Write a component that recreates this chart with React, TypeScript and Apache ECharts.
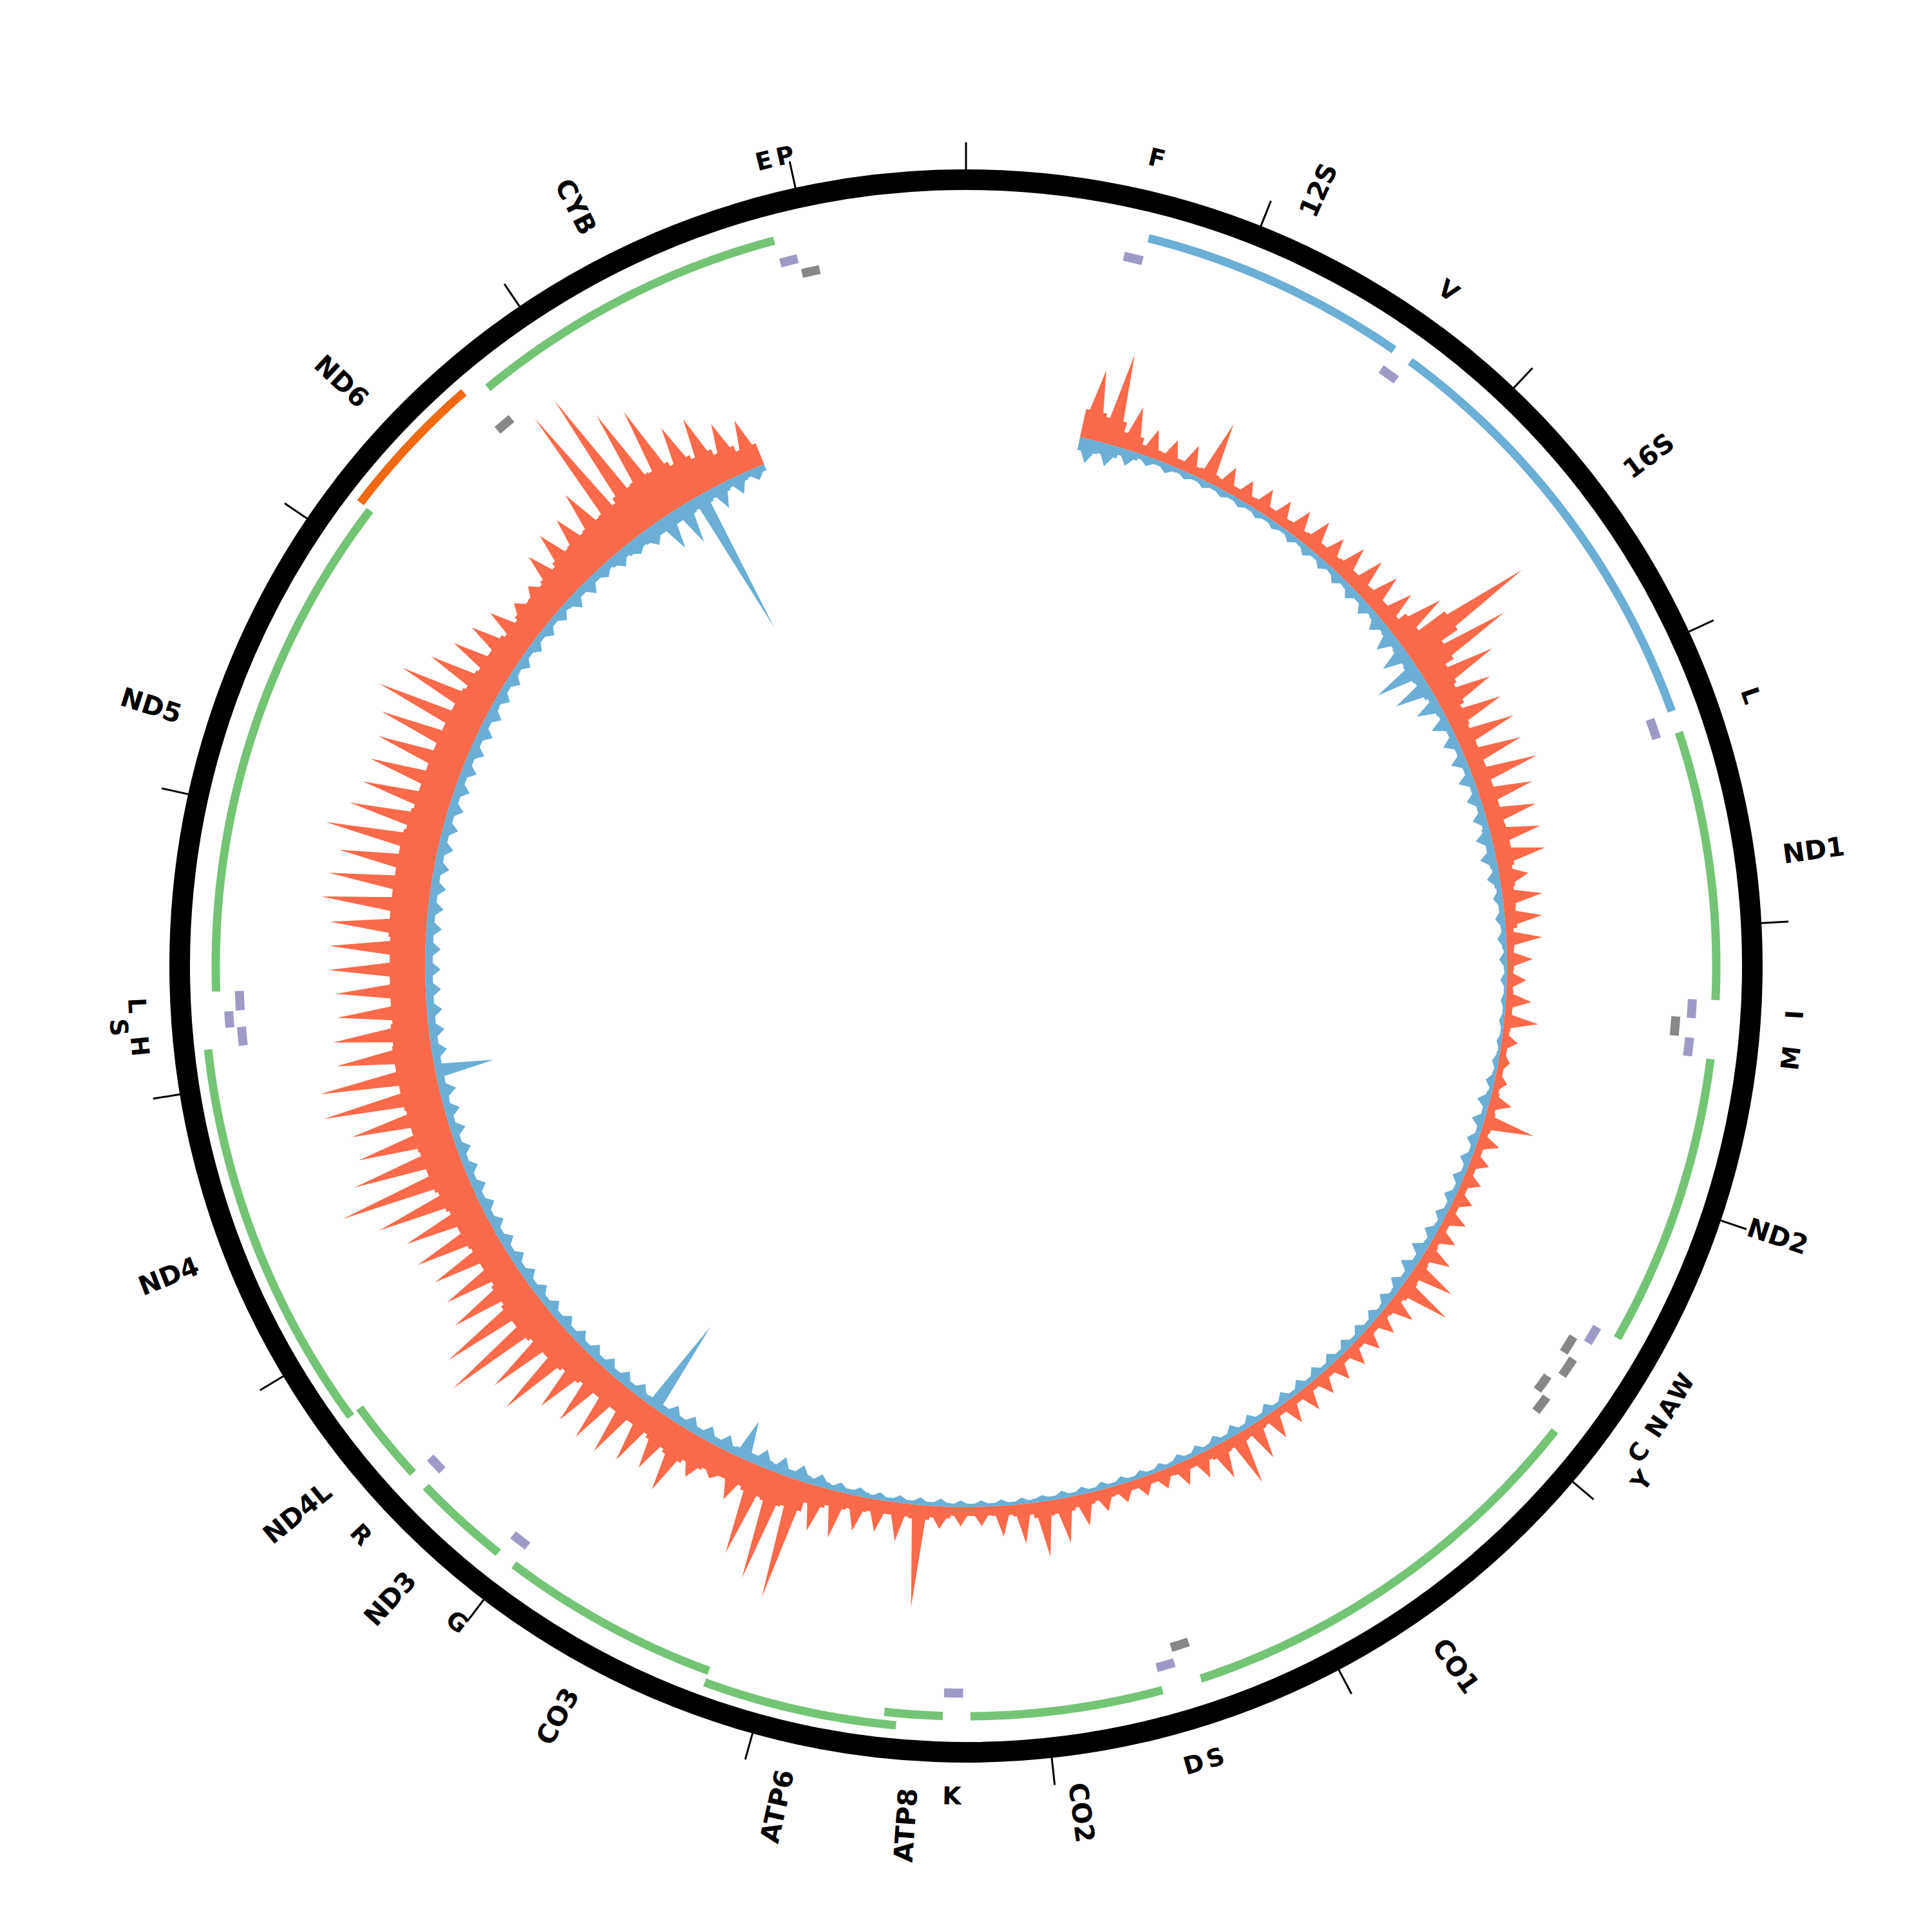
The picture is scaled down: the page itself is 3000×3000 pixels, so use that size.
import React, { useEffect, useRef } from "react";
import * as echarts from "echarts";

// ---------------- data ----------------
const GENOME_LENGTH = 16569;
const TICK_INTERVAL = 1000;

const geneNames = ["12S", "16S", "ND1", "ND2", "CO1", "CO2", "ATP8", "ATP6", "CO3", "ND3", "ND4L", "ND4", "ND5", "ND6", "CYB"];
const geneStarts = [648, 1671, 3307, 4470, 5904, 7586, 8366, 8527, 9207, 10059, 10470, 10760, 12337, 14149, 14747];
const geneEnds = [1601, 3229, 4262, 5511, 7445, 8269, 8572, 9207, 9990, 10404, 10766, 12137, 14148, 14673, 15887];
const geneStrands = [1, 1, 1, 1, 1, 1, 1, 1, 1, 1, 1, 1, 1, -1, 1];
const geneKinds = ["rRNA", "rRNA", "CDS", "CDS", "CDS", "CDS", "CDS", "CDS", "CDS", "CDS", "CDS", "CDS", "CDS", "CDS", "CDS"];

const trnaNames = ["F", "V", "L1", "I", "Q", "M", "W", "A", "N", "C", "Y", "S1", "D", "K", "G", "R", "H", "S2", "L2", "E", "T", "P"];
const trnaLabels = ["F", "V", "L", "I", "", "M", "W", "A", "N", "C", "Y", "S", "D", "K", "G", "R", "H", "S", "L", "", "E", "P"];
const trnaStarts = [577, 1602, 3230, 4263, 4329, 4402, 5512, 5587, 5657, 5761, 5826, 7446, 7518, 8295, 9991, 10405, 12138, 12207, 12266, 14674, 15888, 15956];
const trnaEnds = [647, 1670, 3304, 4331, 4400, 4469, 5579, 5655, 5729, 5826, 5891, 7514, 7585, 8364, 10058, 10469, 12206, 12265, 12336, 14742, 15953, 16023];
const trnaStrands = [1, 1, 1, 1, -1, 1, 1, -1, -1, -1, -1, -1, 1, 1, 1, 1, 1, 1, 1, -1, 1, -1];

// coverage, 100 bp bins starting at 560 (depth units)
const COV_START = 560;
const COV_BIN = 100;
const forwardFill = [
  45, 40, 25, 15, 14, 14, 16, 14, 14, 15,
  15, 16, 18, 18, 20, 20, 21, 21, 35, 85,
  55, 40, 35, 28, 25, 25, 25, 25, 25, 26,
  26, 22, 19, 18, 12, 11, 10, 11, 11, 10,
  10, 10, 12, 14, 12, 12, 12, 12, 12, 12,
  14, 16, 18, 14, 12, 12, 12, 12, 12, 12,
  12, 12, 14, 16, 18, 15, 15, 14, 14, 14,
  15, 18, 22, 24, 18, 15, 14, 14, 18, 22,
  20, 20, 22, 25, 30, 45, 48, 45, 40, 40,
  44, 50, 45, 40, 40, 40, 40, 45, 50, 50,
  55, 55, 50, 45, 45, 48, 48, 52, 56, 56,
  58, 58, 60, 60, 60, 58, 55, 55, 55, 55,
  58, 58, 58, 58, 58, 55, 52, 52, 52, 52,
  52, 52, 48, 45, 45, 40, 45, 46, 50, 56,
  58, 60, 62, 70, 72, 70, 62, 55, 45, 35,
];
const forwardPeak = [
  110, 145, 70, 45, 40, 45, 98, 40, 35, 40,
  40, 45, 50, 45, 55, 60, 60, 60, 90, 220,
  160, 115, 90, 90, 95, 92, 105, 85, 80, 78,
  78, 45, 62, 58, 56, 40, 30, 40, 53, 25,
  18, 20, 35, 80, 35, 30, 30, 30, 35, 35,
  45, 70, 84, 45, 35, 35, 35, 35, 35, 40,
  40, 45, 60, 84, 57, 40, 38, 30, 30, 30,
  35, 50, 70, 86, 62, 48, 30, 30, 35, 159,
  60, 50, 55, 73, 71, 190, 172, 145, 70, 50,
  65, 108, 90, 100, 110, 110, 106, 110, 150, 140,
  192, 170, 130, 120, 120, 130, 130, 160, 205, 170,
  150, 150, 185, 183, 150, 150, 140, 140, 150, 150,
  150, 167, 160, 150, 179, 150, 140, 140, 140, 150,
  171, 150, 120, 100, 90, 80, 60, 60, 90, 100,
  100, 120, 243, 246, 190, 171, 120, 116, 90, 80,
];
const reverseFill = [
  20, 18, 12, 8, 8, 7, 7, 7, 7, 7,
  7, 7, 8, 8, 9, 10, 10, 12, 14, 16,
  18, 16, 12, 10, 10, 10, 10, 10, 10, 12,
  12, 10, 8, 8, 7, 5, 4, 4, 4, 4,
  5, 6, 8, 8, 8, 8, 8, 8, 8, 9,
  10, 10, 10, 9, 8, 8, 8, 8, 8, 8,
  8, 8, 8, 8, 8, 7, 7, 6, 6, 6,
  6, 6, 6, 6, 5, 5, 5, 5, 6, 6,
  6, 6, 8, 8, 10, 12, 12, 14, 14, 12,
  12, 12, 12, 12, 11, 11, 11, 11, 11, 11,
  11, 11, 11, 11, 11, 11, 11, 11, 11, 11,
  11, 11, 12, 12, 12, 12, 12, 12, 12, 12,
  12, 12, 12, 12, 12, 12, 12, 12, 12, 12,
  12, 12, 11, 11, 10, 10, 10, 10, 12, 12,
  12, 15, 18, 20, 20, 20, 18, 15, 12, 10,
];
const reversePeak = [
  38, 35, 25, 15, 15, 12, 12, 12, 12, 12,
  12, 14, 16, 16, 18, 20, 22, 25, 35, 45,
  75, 60, 40, 30, 25, 25, 25, 22, 22, 25,
  25, 20, 15, 15, 14, 12, 10, 8, 8, 8,
  10, 14, 20, 20, 18, 18, 18, 18, 18, 20,
  25, 25, 22, 20, 18, 18, 18, 18, 18, 18,
  18, 18, 18, 18, 16, 15, 14, 12, 12, 12,
  12, 12, 12, 10, 10, 10, 10, 10, 12, 12,
  12, 12, 14, 15, 20, 25, 28, 28, 63, 25,
  24, 24, 24, 154, 22, 22, 22, 22, 22, 22,
  22, 22, 22, 22, 22, 22, 22, 22, 22, 22,
  24, 24, 26, 92, 24, 24, 24, 24, 24, 24,
  24, 24, 24, 24, 24, 24, 24, 24, 24, 24,
  24, 24, 22, 22, 20, 20, 20, 20, 25, 25,
  20, 25, 25, 31, 58, 66, 236, 39, 30, 20,
];

// ---------------- layout (px) ----------------
const SIZE = 3000;
const CX = 1500;
const CY = 1500;
const RING_R = 1221;
const BASE_R = 840;
const GENE_R = 1165;
const GENE_LANE = 19;
const GENE_W = 13;
const TRNA_PLUS_R = 1129;
const TRNA_MINUS_R = 1105;
const TRNA_LANE = 18;
const TRNA_W = 14;
const GENE_LABEL_R = 1280;
const TRNA_LABEL_R = 1289;
const TRNA_LABEL_LANE = 30;
const TENT = 32;

const COLORS = {
  fwd: "#fb6a4a",
  rev: "#6baed6",
  cds: "#74c476",
  cdsMinus: "#f16913",
  rrna: "#6baed6",
  trnaPlus: "#9e9ac8",
  trnaMinus: "#878787",
};

const v = (px: number) => px - BASE_R;

function arcPolygon(api: any, rIn: number, rOut: number, s: number, e: number) {
  const pts: number[][] = [];
  const steps = Math.max(2, Math.ceil((e - s) / 15));
  for (let i = 0; i <= steps; i++) {
    const p = api.coord([v(rOut), s + ((e - s) * i) / steps]);
    pts.push([p[0], p[1]]);
  }
  for (let i = steps; i >= 0; i--) {
    const p = api.coord([v(rIn), s + ((e - s) * i) / steps]);
    pts.push([p[0], p[1]]);
  }
  return pts;
}

function coveragePolygon(api: any, fills: number[], peaks: number[], sign: number) {
  const pts: number[][] = [];
  const n = fills.length;
  for (let i = 0; i < n; i++) {
    const s = COV_START + i * COV_BIN;
    const m = s + COV_BIN / 2;
    const e = s + COV_BIN;
    const f = sign * fills[i];
    const p = sign * peaks[i];
    [[f, s], [f, m - TENT], [p, m], [f, m + TENT], [f, e]].forEach((d) => {
      const c = api.coord(d);
      pts.push([c[0], c[1]]);
    });
  }
  for (let i = n; i >= 0; i--) {
    const c = api.coord([0, COV_START + i * COV_BIN]);
    pts.push([c[0], c[1]]);
  }
  return pts;
}

function labelEl(api: any, cs: any, pos: number, text: string, radial: boolean, r: number) {
  const p = api.coord([v(r), pos]);
  const phi = Math.atan2(p[1] - cs.cy, p[0] - cs.cx);
  let rotation: number;
  let align: string;
  if (radial) {
    if (Math.cos(phi) >= 0) {
      rotation = -phi;
      align = "left";
    } else {
      rotation = -(phi + Math.PI);
      align = "right";
    }
  } else {
    rotation = Math.sin(phi) < 0 ? -(phi + Math.PI / 2) : -(phi - Math.PI / 2);
    align = "center";
  }
  return {
    type: "text",
    x: p[0],
    y: p[1],
    rotation,
    style: {
      text,
      fill: "#000",
      fontSize: radial ? 41 : 38,
      fontWeight: "bold",
      fontFamily: "DejaVu Sans",
      align,
      textAlign: align,
      verticalAlign: "middle",
      textVerticalAlign: "middle",
    },
  };
}

function renderAll(params: any, api: any) {
  const cs = params.coordSys;
  const children: any[] = [];

  children.push({ type: "polygon", shape: { points: coveragePolygon(api, forwardFill, forwardPeak, 1) }, style: { fill: COLORS.fwd } });
  children.push({ type: "polygon", shape: { points: coveragePolygon(api, reverseFill, reversePeak, -1) }, style: { fill: COLORS.rev } });

  // genes
  let prevEnd = -1;
  let prevLane = 0;
  for (let i = 0; i < geneNames.length; i++) {
    let lane = 0;
    if (geneStrands[i] < 0) lane = 1;
    else if (geneStarts[i] <= prevEnd) lane = prevLane === 0 ? 1 : 0;
    prevEnd = geneEnds[i];
    prevLane = lane;
    const rc = GENE_R + lane * GENE_LANE;
    const color = geneKinds[i] === "rRNA" ? COLORS.rrna : geneStrands[i] < 0 ? COLORS.cdsMinus : COLORS.cds;
    children.push({
      type: "polygon",
      shape: { points: arcPolygon(api, rc - GENE_W / 2, rc + GENE_W / 2, geneStarts[i], geneEnds[i]) },
      style: { fill: color },
    });
    children.push(labelEl(api, cs, (geneStarts[i] + geneEnds[i]) / 2, geneNames[i], true, GENE_LABEL_R));
  }

  // tRNAs
  const last: Record<string, { end: number; lane: number }> = { "1": { end: -100, lane: 0 }, "-1": { end: -100, lane: 0 } };
  let prevLabelCenter = -1000;
  let prevLabelLane = 0;
  for (let i = 0; i < trnaNames.length; i++) {
    const key = String(trnaStrands[i]);
    const prev = last[key];
    const lane = trnaStarts[i] <= prev.end + 2 ? (prev.lane === 0 ? 1 : 0) : 0;
    last[key] = { end: trnaEnds[i], lane };
    const base = trnaStrands[i] > 0 ? TRNA_PLUS_R : TRNA_MINUS_R;
    const rc = base + lane * TRNA_LANE;
    children.push({
      type: "polygon",
      shape: { points: arcPolygon(api, rc - TRNA_W / 2, rc + TRNA_W / 2, trnaStarts[i], trnaEnds[i]) },
      style: { fill: trnaStrands[i] > 0 ? COLORS.trnaPlus : COLORS.trnaMinus },
    });
    if (trnaLabels[i]) {
      const center = (trnaStarts[i] + trnaEnds[i]) / 2;
      const labelLane = center - prevLabelCenter < 68 && prevLabelLane === 0 ? 1 : 0;
      prevLabelCenter = center;
      prevLabelLane = labelLane;
      children.push(labelEl(api, cs, center, trnaLabels[i], false, TRNA_LABEL_R + labelLane * TRNA_LABEL_LANE));
    }
  }

  return { type: "group", children };
}

export default function App() {
  const ref = useRef<HTMLDivElement>(null);
  useEffect(() => {
    if (!ref.current) return;
    const chart = echarts.init(ref.current, undefined, { renderer: "svg" });
    chart.setOption({
      animation: false,
      backgroundColor: "#ffffff",
      polar: { center: [CX, CY], radius: [0, RING_R] },
      angleAxis: {
        type: "value",
        min: 0,
        max: GENOME_LENGTH,
        interval: TICK_INTERVAL,
        startAngle: 90,
        clockwise: true,
        axisLine: { show: true, lineStyle: { color: "#000", width: 32 } },
        axisTick: { show: true, inside: false, length: 58, lineStyle: { color: "#000", width: 3 } },
        axisLabel: { show: false },
        splitLine: { show: false },
      },
      radiusAxis: {
        type: "value",
        min: -BASE_R,
        max: RING_R - BASE_R,
        show: false,
        axisLine: { show: false },
        axisTick: { show: false },
        axisLabel: { show: false },
        splitLine: { show: false },
      },
      series: [
        {
          type: "custom",
          coordinateSystem: "polar",
          silent: true,
          data: [[0, 0]],
          renderItem: renderAll,
        },
      ],
    });
    return () => chart.dispose();
  }, []);
  return <div ref={ref} style={{ position: "absolute", left: 0, top: 0, width: SIZE, height: SIZE }} />;
}
